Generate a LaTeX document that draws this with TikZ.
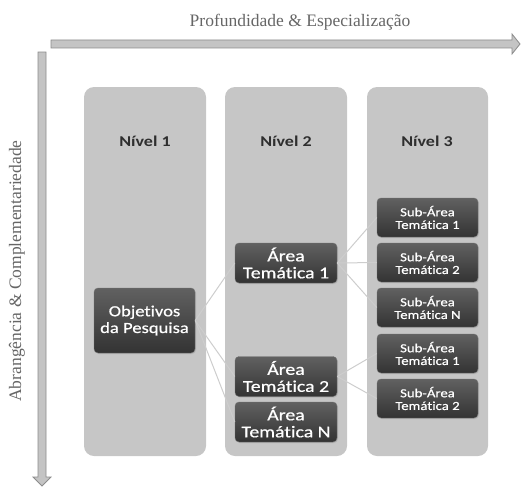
\documentclass[tikz,border=0pt]{standalone}
\usepackage{fontspec}
\setmainfont{Liberation Serif}
\newfontfamily\boxfont[FakeStretch=1.2,FakeBold=0.6,Ligatures=NoCommon]{Carlito}
\newfontfamily\titlefont[FakeStretch=1.2,Ligatures=NoCommon]{Carlito}
\usetikzlibrary{positioning,shadows}

\definecolor{panelgray}{HTML}{C6C6C6}
\definecolor{axisgray}{HTML}{C4C4C4}
\definecolor{axisedge}{HTML}{8C8C8C}
\definecolor{linkgray}{HTML}{CDCDCD}

\tikzset{
  panel/.style={fill=panelgray,rounded corners=10pt},
  leveltitle/.style={font=\titlefont\bfseries\fontsize{15}{15}\selectfont,text=black!82},
  topicbox/.style={rounded corners=4pt,top color=black!62,bottom color=black!80,
    draw=black!55,text=white,align=center,drop shadow={opacity=0.25,shadow xshift=1pt,shadow yshift=-1pt}},
  mainbox/.style={topicbox,minimum width=101pt,minimum height=65pt,
    font=\boxfont\fontsize{15.5}{16.7}\selectfont},
  areabox/.style={topicbox,minimum width=102pt,minimum height=40pt,
    font=\boxfont\fontsize{16.5}{17}\selectfont},
  subbox/.style={topicbox,minimum width=101pt,minimum height=39pt,
    font=\boxfont\fontsize{12.3}{12.7}\selectfont},
  link/.style={linkgray,line width=1pt},
  axis/.style={fill=axisgray,draw=axisedge,line width=0.8pt},
  axislabel/.style={text=black!60,font=\fontsize{17.5}{18}\selectfont}
}

\begin{document}
\begin{tikzpicture}[x=1pt,y=-1pt]
  \useasboundingbox (0,0) rectangle (521,487);
  % axes
  \draw[axis] (51,40) -- (512,40) -- (512,34) -- (520,44) -- (512,54) -- (512,48) -- (51,48) -- cycle;
  \draw[axis] (38,52) -- (46,52) -- (46,477) -- (51,477) -- (42,486) -- (33,477) -- (38,477) -- cycle;
  \node[axislabel] (depth) at (300,22) {Profundidade \& Especialização};
  \node[axislabel,rotate=90] (breadth) at (17,271) {Abrangência \& Complementariedade};
  % columns
  \fill[panel] (84,87) rectangle (206,456);
  \fill[panel] (225,87) rectangle (347,456);
  \fill[panel] (367,87) rectangle (488,456);
  \node[leveltitle] (lvl1) at (145,141) {Nível 1};
  \node[leveltitle] (lvl2) at (286,141) {Nível 2};
  \node[leveltitle] (lvl3) at (427,141) {Nível 3};
  % boxes
  \node[mainbox] (goal) at (144.5,320.5) {Objetivos\\da Pesquisa};
  \node[areabox] (areaA) at (286,263) {Área\\Temática 1};
  \node[areabox] (areaB) at (286,376.5) {Área\\Temática 2};
  \node[areabox] (areaN) at (286,422) {Área\\Temática N};
  \node[subbox] (subA1) at (427.5,217.5) {Sub-Área\\Temática 1};
  \node[subbox] (subA2) at (427.5,262.5) {Sub-Área\\Temática 2};
  \node[subbox] (subAN) at (427.5,307.5) {Sub-Área\\Temática N};
  \node[subbox] (subB1) at (427.5,353.5) {Sub-Área\\Temática 1};
  \node[subbox] (subB2) at (427.5,398.5) {Sub-Área\\Temática 2};
  % links
  \draw[link] (goal.east) -- (areaA.west);
  \draw[link] (goal.east) -- (areaB.west);
  \draw[link] (goal.east) -- (areaN.west);
  \draw[link] (areaA.east) -- (subA1.west);
  \draw[link] (areaA.east) -- (subA2.west);
  \draw[link] (areaA.east) -- (subAN.west);
  \draw[link] (areaB.east) -- (subB1.west);
  \draw[link] (areaB.east) -- (subB2.west);
\end{tikzpicture}
\end{document}
